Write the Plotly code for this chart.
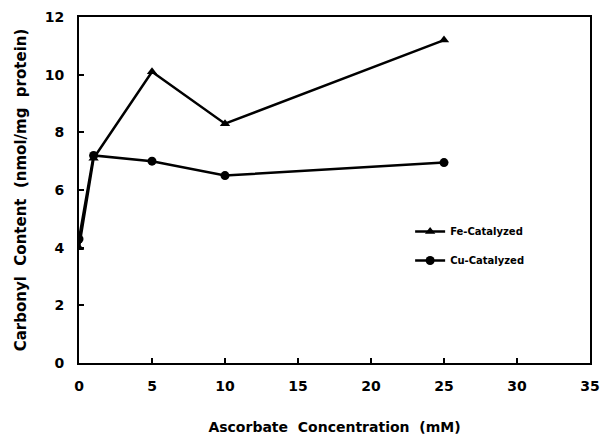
import plotly.graph_objects as go

# Ascorbate concentration (mM)
conc = [0, 1, 5, 10, 25]
# Carbonyl content (nmol/mg protein)
fe_catalyzed = [4.0, 7.1, 10.1, 8.3, 11.2]
cu_catalyzed = [4.3, 7.2, 7.0, 6.5, 6.95]

x_ticks = [0, 5, 10, 15, 20, 25, 30, 35]
y_ticks = [0, 2, 4, 6, 8, 10, 12]

font_family = "DejaVu Sans, Liberation Sans, Arial, sans-serif"

fig = go.Figure()
fig.add_trace(go.Scatter(
    x=conc, y=fe_catalyzed, mode="lines+markers", name="<b>Fe-Catalyzed</b>",
    legendgroup="fe",
    line=dict(color="black", width=2.5),
    marker=dict(symbol="triangle-up", size=9, color="black"),
))
fig.add_trace(go.Scatter(
    x=conc, y=cu_catalyzed, mode="lines+markers", name="<b>Cu-Catalyzed</b>",
    legendgroup="cu",
    line=dict(color="black", width=2.5),
    marker=dict(symbol="circle", size=9, color="black"),
))

axis_common = dict(
    showline=True, linecolor="black", linewidth=2, mirror=True,
    ticks="inside", ticklen=5, tickwidth=1.5, tickcolor="black",
    showgrid=False, zeroline=False, automargin=False,
    tickfont=dict(family=font_family, size=14, color="black"),
)

fig.update_layout(
    width=601, height=435,
    margin=dict(l=79, r=11, t=17, b=72),
    paper_bgcolor="white", plot_bgcolor="white",
    font=dict(family=font_family, color="black"),
    xaxis=dict(
        range=[0, 35], tickvals=x_ticks,
        ticktext=[f"<b>{v}</b>" for v in x_ticks],
        ticklabelstandoff=9,
        title=dict(text="<b>Ascorbate  Concentration  (mM)</b>",
                   font=dict(size=14), standoff=29),
        **axis_common,
    ),
    yaxis=dict(
        range=[0, 12], tickvals=y_ticks,
        ticktext=[f"<b>{v}</b>" for v in y_ticks],
        ticklabelstandoff=10,
        title=dict(text="<b>Carbonyl  Content  (nmol/mg  protein)</b>",
                   font=dict(size=15), standoff=14),
        **axis_common,
    ),
    legend=dict(
        x=0.648, y=0.338, xanchor="left", yanchor="middle",
        bgcolor="rgba(0,0,0,0)", itemwidth=30, tracegroupgap=10,
        font=dict(family=font_family, size=10, color="black"),
    ),
)

fig.write_html("out.html")
